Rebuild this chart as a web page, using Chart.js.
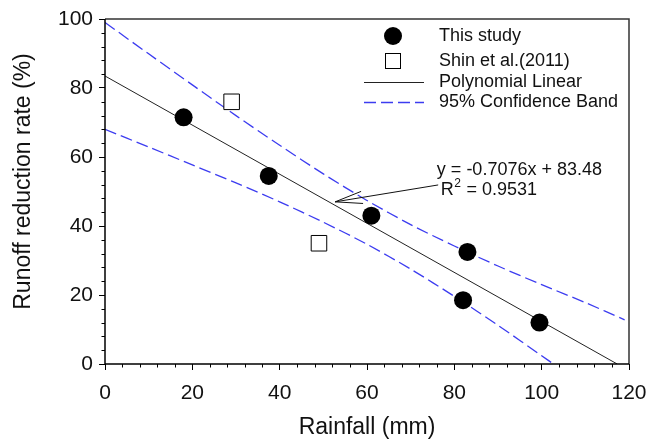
<!DOCTYPE html>
<html><head><meta charset="utf-8">
<script src="https://cdn.jsdelivr.net/npm/chart.js@4.4.1/dist/chart.umd.min.js"></script>
<style>html,body{margin:0;padding:0;background:#fff}#wrap{width:663px;height:441px}</style>
</head><body><div id="wrap"><canvas id="c" width="663" height="441"></canvas></div>
<script>
// ---- data ----
const studyX = [18, 37.5, 61, 82, 83, 99.5];
const studyY = [71.5, 54.5, 43, 18.5, 32.5, 12];
const shinX = [29, 49];
const shinY = [76, 35];
const fitX = [0, 117.3];
const fitY = [83.48, 0];
const upperX = [0, 10, 20, 30, 40, 50, 60, 70, 80, 90, 100, 110, 119];
const upperY = [99.0, 89.9, 80.9, 72.0, 63.4, 55.1, 47.4, 40.4, 34.2, 28.4, 23.0, 17.8, 12.8];
const lowerX = [0, 10, 20, 30, 40, 50, 60, 70, 80, 90, 100, 102.7];
const lowerY = [68.0, 62.9, 57.7, 52.5, 47.0, 41.1, 34.7, 27.5, 19.6, 11.2, 2.4, 0];
const xTicks = [0, 20, 40, 60, 80, 100, 120];
const yTicks = [0, 20, 40, 60, 80, 100];
const legendLabels = ['This study', 'Shin et al.(2011)', 'Polynomial Linear', '95% Confidence Band'];
const eqText = 'y = -0.7076x + 83.48';
const r2Value = ' = 0.9531';
const xTitle = 'Rainfall (mm)';
const yTitle = 'Runoff reduction rate (%)';

const pts = (xs, ys) => xs.map((x, i) => ({x: x, y: ys[i]}));
const FONT = "'Liberation Sans', Arial, sans-serif";
const BLUE = '#3c3cf0';
const DASH = [12, 5];

const extras = {
  id: 'extras',
  afterDraw(chart) {
    const ctx = chart.ctx, a = chart.chartArea;
    const xs = chart.scales.x, ys = chart.scales.y;
    ctx.save();
    // minor ticks
    ctx.strokeStyle = '#000'; ctx.lineWidth = 1;
    ctx.beginPath();
    for (let v = 4; v < 120; v += 4) {
      if (v % 20 === 0) continue;
      const px = Math.round(xs.getPixelForValue(v)) + 0.5;
      ctx.moveTo(px, a.bottom); ctx.lineTo(px, a.bottom + 3.5);
    }
    for (let v = 4; v < 100; v += 4) {
      if (v % 20 === 0) continue;
      const py = Math.round(ys.getPixelForValue(v)) + 0.5;
      ctx.moveTo(a.left, py); ctx.lineTo(a.left - 3.5, py);
    }
    ctx.stroke();
    // frame
    ctx.lineWidth = 1.5; ctx.strokeStyle = '#333';
    ctx.beginPath();
    ctx.moveTo(a.left, a.top); ctx.lineTo(a.right, a.top); ctx.lineTo(a.right, a.bottom);
    ctx.stroke();
    ctx.strokeStyle = '#000';
    ctx.beginPath();
    ctx.moveTo(a.left, a.top); ctx.lineTo(a.left, a.bottom); ctx.lineTo(a.right, a.bottom);
    ctx.stroke();

    // y axis title
    ctx.fillStyle = '#111';
    ctx.font = '23px ' + FONT; ctx.textAlign = 'center'; ctx.textBaseline = 'middle';
    ctx.save();
    ctx.translate(24, (a.top + a.bottom) / 2 - 10);
    ctx.rotate(-Math.PI / 2);
    ctx.fillText(yTitle, 0, 0);
    ctx.restore();

    // legend
    const R = a.right;
    const rows = [a.top + 17, a.top + 42, a.top + 63, a.top + 83];
    ctx.fillStyle = '#000';
    ctx.beginPath(); ctx.arc(R - 236, rows[0], 9, 0, Math.PI * 2); ctx.fill();
    ctx.fillStyle = '#fff'; ctx.strokeStyle = '#000'; ctx.lineWidth = 1;
    ctx.fillRect(R - 244, rows[1] - 8, 16, 16);
    ctx.strokeRect(R - 243.5, rows[1] - 7.5, 15, 15);
    ctx.strokeStyle = '#222'; ctx.lineWidth = 1;
    ctx.beginPath(); ctx.moveTo(R - 265, rows[2] + 0.5); ctx.lineTo(R - 205, rows[2] + 0.5); ctx.stroke();
    ctx.strokeStyle = BLUE; ctx.lineWidth = 1.3; ctx.setLineDash(DASH);
    ctx.beginPath(); ctx.moveTo(R - 265, rows[3] + 0.5); ctx.lineTo(R - 205, rows[3] + 0.5); ctx.stroke();
    ctx.setLineDash([]);
    ctx.fillStyle = '#111'; ctx.font = '18px ' + FONT; ctx.textBaseline = 'middle'; ctx.textAlign = 'left';
    legendLabels.forEach((t, i) => ctx.fillText(t, R - 190, rows[i]));

    // annotation
    const t1x = xs.getPixelForValue(76.0), t1y = ys.getPixelForValue(56.2);
    const t2x = xs.getPixelForValue(76.9), t2y = ys.getPixelForValue(50.4);
    ctx.font = '18px ' + FONT;
    ctx.fillText(eqText, t1x, t1y);
    ctx.fillText('R', t2x, t2y);
    const rw = ctx.measureText('R').width;
    ctx.font = '12px ' + FONT;
    ctx.fillText('2', t2x + rw + 0.5, t2y - 6);
    const sw = ctx.measureText('2').width;
    ctx.font = '18px ' + FONT;
    ctx.fillText(r2Value, t2x + rw + sw + 1, t2y);
    // arrow
    const tipX = xs.getPixelForValue(52.7), tipY = ys.getPixelForValue(47.0);
    const tailX = xs.getPixelForValue(76.3), tailY = ys.getPixelForValue(51.9);
    const ang = Math.atan2(tailY - tipY, tailX - tipX);
    ctx.strokeStyle = '#111'; ctx.lineWidth = 1;
    ctx.beginPath();
    ctx.moveTo(tailX, tailY); ctx.lineTo(tipX, tipY);
    const L = 28, h = 0.22;
    ctx.moveTo(tipX + L * Math.cos(ang - h), tipY + L * Math.sin(ang - h));
    ctx.lineTo(tipX, tipY);
    ctx.lineTo(tipX + L * Math.cos(ang + h), tipY + L * Math.sin(ang + h));
    ctx.stroke();
    ctx.restore();
  }
};

Chart.defaults.font.family = FONT;
new Chart(document.getElementById('c'), {
  type: 'scatter',
  data: {
    datasets: [
      {label: legendLabels[0], data: pts(studyX, studyY), pointStyle: 'circle', pointRadius: 9,
       backgroundColor: '#000', borderColor: '#000', borderWidth: 0, order: 0},
      {label: legendLabels[1], data: pts(shinX, shinY), pointStyle: 'rect', pointRadius: 11,
       backgroundColor: '#fff', borderColor: '#000', borderWidth: 1, order: 0},
      {label: legendLabels[2], data: pts(fitX, fitY), showLine: true, pointRadius: 0,
       borderColor: '#222', borderWidth: 1, order: 1},
      {label: legendLabels[3], data: pts(upperX, upperY), showLine: true, pointRadius: 0, tension: 0.3,
       borderColor: BLUE, borderWidth: 1.3, borderDash: DASH, order: 1},
      {label: legendLabels[3] + ' (lower)', data: pts(lowerX, lowerY), showLine: true, pointRadius: 0, tension: 0.3,
       borderColor: BLUE, borderWidth: 1.3, borderDash: DASH, order: 1}
    ]
  },
  options: {
    responsive: false, animation: false, devicePixelRatio: 1,
    layout: {padding: {left: 0, right: 34, top: 19, bottom: 0}},
    plugins: {legend: {display: false}, tooltip: {enabled: false}},
    scales: {
      x: {
        type: 'linear', min: 0, max: 120,
        afterBuildTicks: s => { s.ticks = xTicks.map(v => ({value: v})); },
        afterFit: s => { s.height = 77; },
        grid: {drawOnChartArea: false, drawTicks: true, tickLength: 6, color: '#000', lineWidth: 1},
        border: {display: false},
        ticks: {font: {size: 21}, color: '#111', padding: 11, maxRotation: 0, autoSkip: false},
        title: {display: true, text: xTitle, font: {size: 23}, color: '#111', padding: 0}
      },
      y: {
        type: 'linear', min: 0, max: 100,
        afterBuildTicks: s => { s.ticks = yTicks.map(v => ({value: v})); },
        afterFit: s => { s.width = 105; },
        grid: {drawOnChartArea: false, drawTicks: true, tickLength: 6, color: '#000', lineWidth: 1},
        border: {display: false},
        ticks: {font: {size: 21}, color: '#111', padding: 6, autoSkip: false},
        title: {display: false}
      }
    }
  },
  plugins: [extras]
});
</script></body></html>
